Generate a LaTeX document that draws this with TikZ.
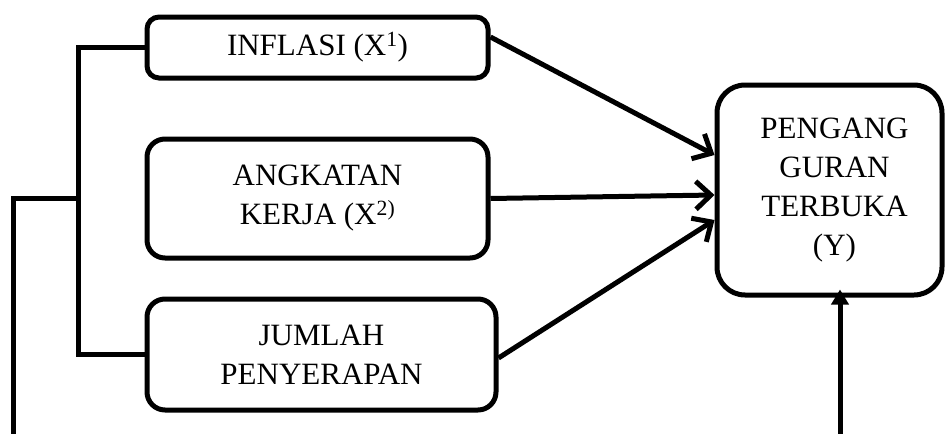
\documentclass[tikz,border=0pt]{standalone}
\usepackage{fontspec}
\setmainfont{Liberation Serif}
\usetikzlibrary{arrows.meta}
\begin{document}
\begin{tikzpicture}[x=1pt,y=-1pt,
  every node/.style={font=\fontsize{31}{39}\selectfont},
  box/.style={draw, line width=5pt, align=center, inner sep=0pt, fill=white},
  conn/.style={line width=5pt},
  arr/.style={line width=5pt, -{Straight Barb[length=15pt,width=28pt]}},
  uparr/.style={line width=5pt, -{Triangle[length=15pt,width=17pt]}}]
\useasboundingbox (0,0) rectangle (946,434);
\node[box, rounded corners=12pt, minimum width=341pt, minimum height=61pt] (inf) at (317.5,47.5) {\raisebox{-4pt}{INFLASI (X\textsuperscript{1})}};
\node[box, rounded corners=18pt, minimum width=341pt, minimum height=119pt] (ang) at (317.5,198.5) {ANGKATAN\\KERJA (X\textsuperscript{2)}};
\node[box, rounded corners=18pt, minimum width=349pt, minimum height=111pt] (jum) at (321.5,354.5) {JUMLAH\\PENYERAPAN};
\node[box, rounded corners=28pt, minimum width=225pt, minimum height=210pt] (y) at (829.5,190) {\hspace*{10pt}PENGANG\\\hspace*{10pt}GURAN\\\hspace*{10pt}TERBUKA\\\hspace*{10pt}(Y)};
\coordinate (bx) at (78,200);
\coordinate (jn) at (78,198);
\coordinate (bl) at (13,434);
\coordinate (vb) at (840,434);
\draw[conn] (inf.west) -| (bx) |- (jum.west);
\draw[conn] (jn) -| (bl);
\draw[arr] (inf.east |- 0,37) -- (y.west |- 0,155);
\draw[arr] (ang.east) -- (y.west |- 0,195);
\draw[arr] (jum.east |- 0,358) -- (y.west |- 0,220);
\draw[uparr, shorten >=-8pt] (vb) -- (y.south -| vb);
\end{tikzpicture}
\end{document}
